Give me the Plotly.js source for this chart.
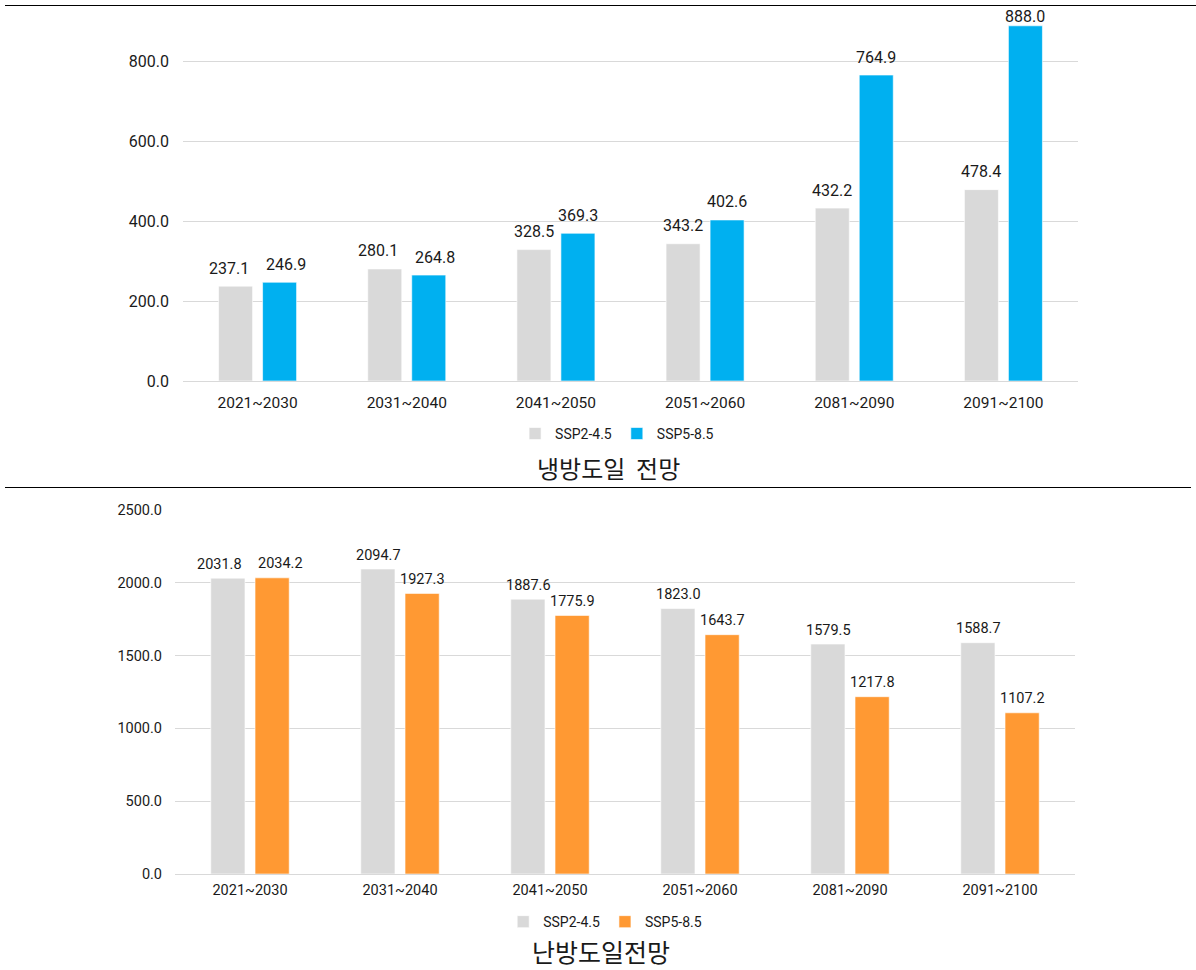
<!DOCTYPE html>
<html><head><meta charset="utf-8">
<script src="https://cdn.plot.ly/plotly-3.0.1.min.js"></script>
<style>
body{margin:0;background:#fff;}
#wrap{position:relative;width:1196px;height:970px;overflow:hidden;}
#c1{position:absolute;left:0;top:0;width:1196px;height:485px;}
#c2{position:absolute;left:0;top:485px;width:1196px;height:485px;}
.hl{position:absolute;height:1px;background:#000;}
</style></head>
<body><div id="wrap"><div id="c1"></div><div id="c2"></div>
<div class="hl" style="left:5px;top:5px;width:1191px;"></div>
<div class="hl" style="left:5px;top:487px;width:1186px;"></div>
</div>
<script>
const periods = ['2021~2030','2031~2040','2041~2050','2051~2060','2081~2090','2091~2100'];
const seriesNames = ['SSP2-4.5','SSP5-8.5'];
const coolingSSP245 = [237.1, 280.1, 328.5, 343.2, 432.2, 478.4];
const coolingSSP585 = [246.9, 264.8, 369.3, 402.6, 764.9, 888.0];
const heatingSSP245 = [2031.8, 2094.7, 1887.6, 1823.0, 1579.5, 1588.7];
const heatingSSP585 = [2034.2, 1927.3, 1775.9, 1643.7, 1217.8, 1107.2];
const coolingTicks = [0, 200, 400, 600, 800];
const heatingTicks = [0, 500, 1000, 1500, 2000, 2500];
const title1 = '냉방도일  전망';
const title2 = '난방도일전망';

const numFont = 'Roboto, "Noto Sans CJK KR", sans-serif';
const krFont = '"Noto Sans CJK KR", sans-serif';

function bar(name, y, color){
  return {type:'bar', name:name, x:periods, y:y,
    marker:{color:color, line:{color:'rgba(255,255,255,0.6)', width:1}},
    hoverinfo:'x+y'};
}
// value labels placed above each bar, nudged to avoid overlaps / the top edge
function labels(a, b, fs, base, range, plotH, mt, minTop){
  const ppu = plotH / (range[1] - range[0]);
  const out = [];
  const half = 22;
  a.forEach((va, i) => {
    const vb = b[i];
    const ta = va.toFixed(1), tb = vb.toFixed(1);
    const sa = Math.min(base, (range[1]-va)*ppu + mt - minTop);
    const sb = Math.min(base, (range[1]-vb)*ppu + mt - minTop);
    const ya = (range[1]-va)*ppu - sa, yb = (range[1]-vb)*ppu - sb;
    let extra = 0;
    const w = Math.max(ta.length, tb.length) * 0.56 * fs;
    if (Math.abs(ya - yb) < fs && w + 6 > 2*half) extra = (w + 6 - 2*half) / 2 + 3;
    [[va, ta, -half - extra, sa], [vb, tb, half + extra, sb]].forEach(([v, t, dx, s]) => {
      out.push({x:periods[i], y:v, xref:'x', yref:'y', text:t,
        showarrow:false, xshift:dx, yshift:s, xanchor:'center', yanchor:'middle',
        font:{family:numFont, size:fs, color:'#1a1a1a'}});
    });
  });
  return out;
}
function layout(m, range, ticks, tfs, ystand, xfs, xstand, legY, legX, titleText, titleY, titleX, titleSize, ann){
  return {
    width:1196, height:485, margin:m, paper_bgcolor:'#fff', plot_bgcolor:'#fff',
    barmode:'group', bargap:0.41, bargroupgap:0.227,
    showlegend:true,
    legend:{orientation:'h', x:legX, xanchor:'center', y:legY, yanchor:'middle',
      font:{family:numFont, size:14, color:'#1a1a1a'}, itemwidth:30, traceorder:'normal'},
    xaxis:{type:'category', showgrid:false, showline:false, zeroline:false, ticks:'',
      tickfont:{family:numFont, size:xfs, color:'#1a1a1a'}, ticklabelstandoff:xstand},
    yaxis:{range:range, tickvals:ticks, ticktext:ticks.map(v=>v.toFixed(1)),
      showgrid:true, gridcolor:'#d9d9d9', gridwidth:1, zeroline:true, zerolinecolor:'#d9d9d9',
      showline:false, ticks:'', ticklabelstandoff:ystand,
      tickfont:{family:numFont, size:tfs, color:'#1a1a1a'}},
    annotations:ann.concat([{text:titleText, xref:'paper', yref:'paper', x:titleX, y:titleY,
      xanchor:'center', yanchor:'middle', showarrow:false,
      font:{family:krFont, size:titleSize, color:'#1a1a1a'}}])
  };
}
const r1 = [0, 900], r2 = [0, 2500];
Plotly.newPlot('c1', [bar(seriesNames[0], coolingSSP245, '#d9d9d9'), bar(seriesNames[1], coolingSSP585, '#00b0f0')],
  layout({l:183, r:118, t:21, b:104}, r1, coolingTicks, 16, 13, 15.5, 10, -0.147, 0.485, title1, -0.24, 0.475, 24,
    labels(coolingSSP245, coolingSSP585, 16, 18, r1, 360, 21, 16)),
  {displayModeBar:false, staticPlot:true});
Plotly.newPlot('c2', [bar(seriesNames[0], heatingSSP245, '#d9d9d9'), bar(seriesNames[1], heatingSSP585, '#ff9933')],
  layout({l:175, r:121, t:25, b:96}, r2, heatingTicks, 14.5, 12, 14.5, 5, -0.132, 0.478, title2, -0.212, 0.473, 25,
    labels(heatingSSP245, heatingSSP585, 14.5, 14, r2, 364, 25, 10)),
  {displayModeBar:false, staticPlot:true});
</script></body></html>
